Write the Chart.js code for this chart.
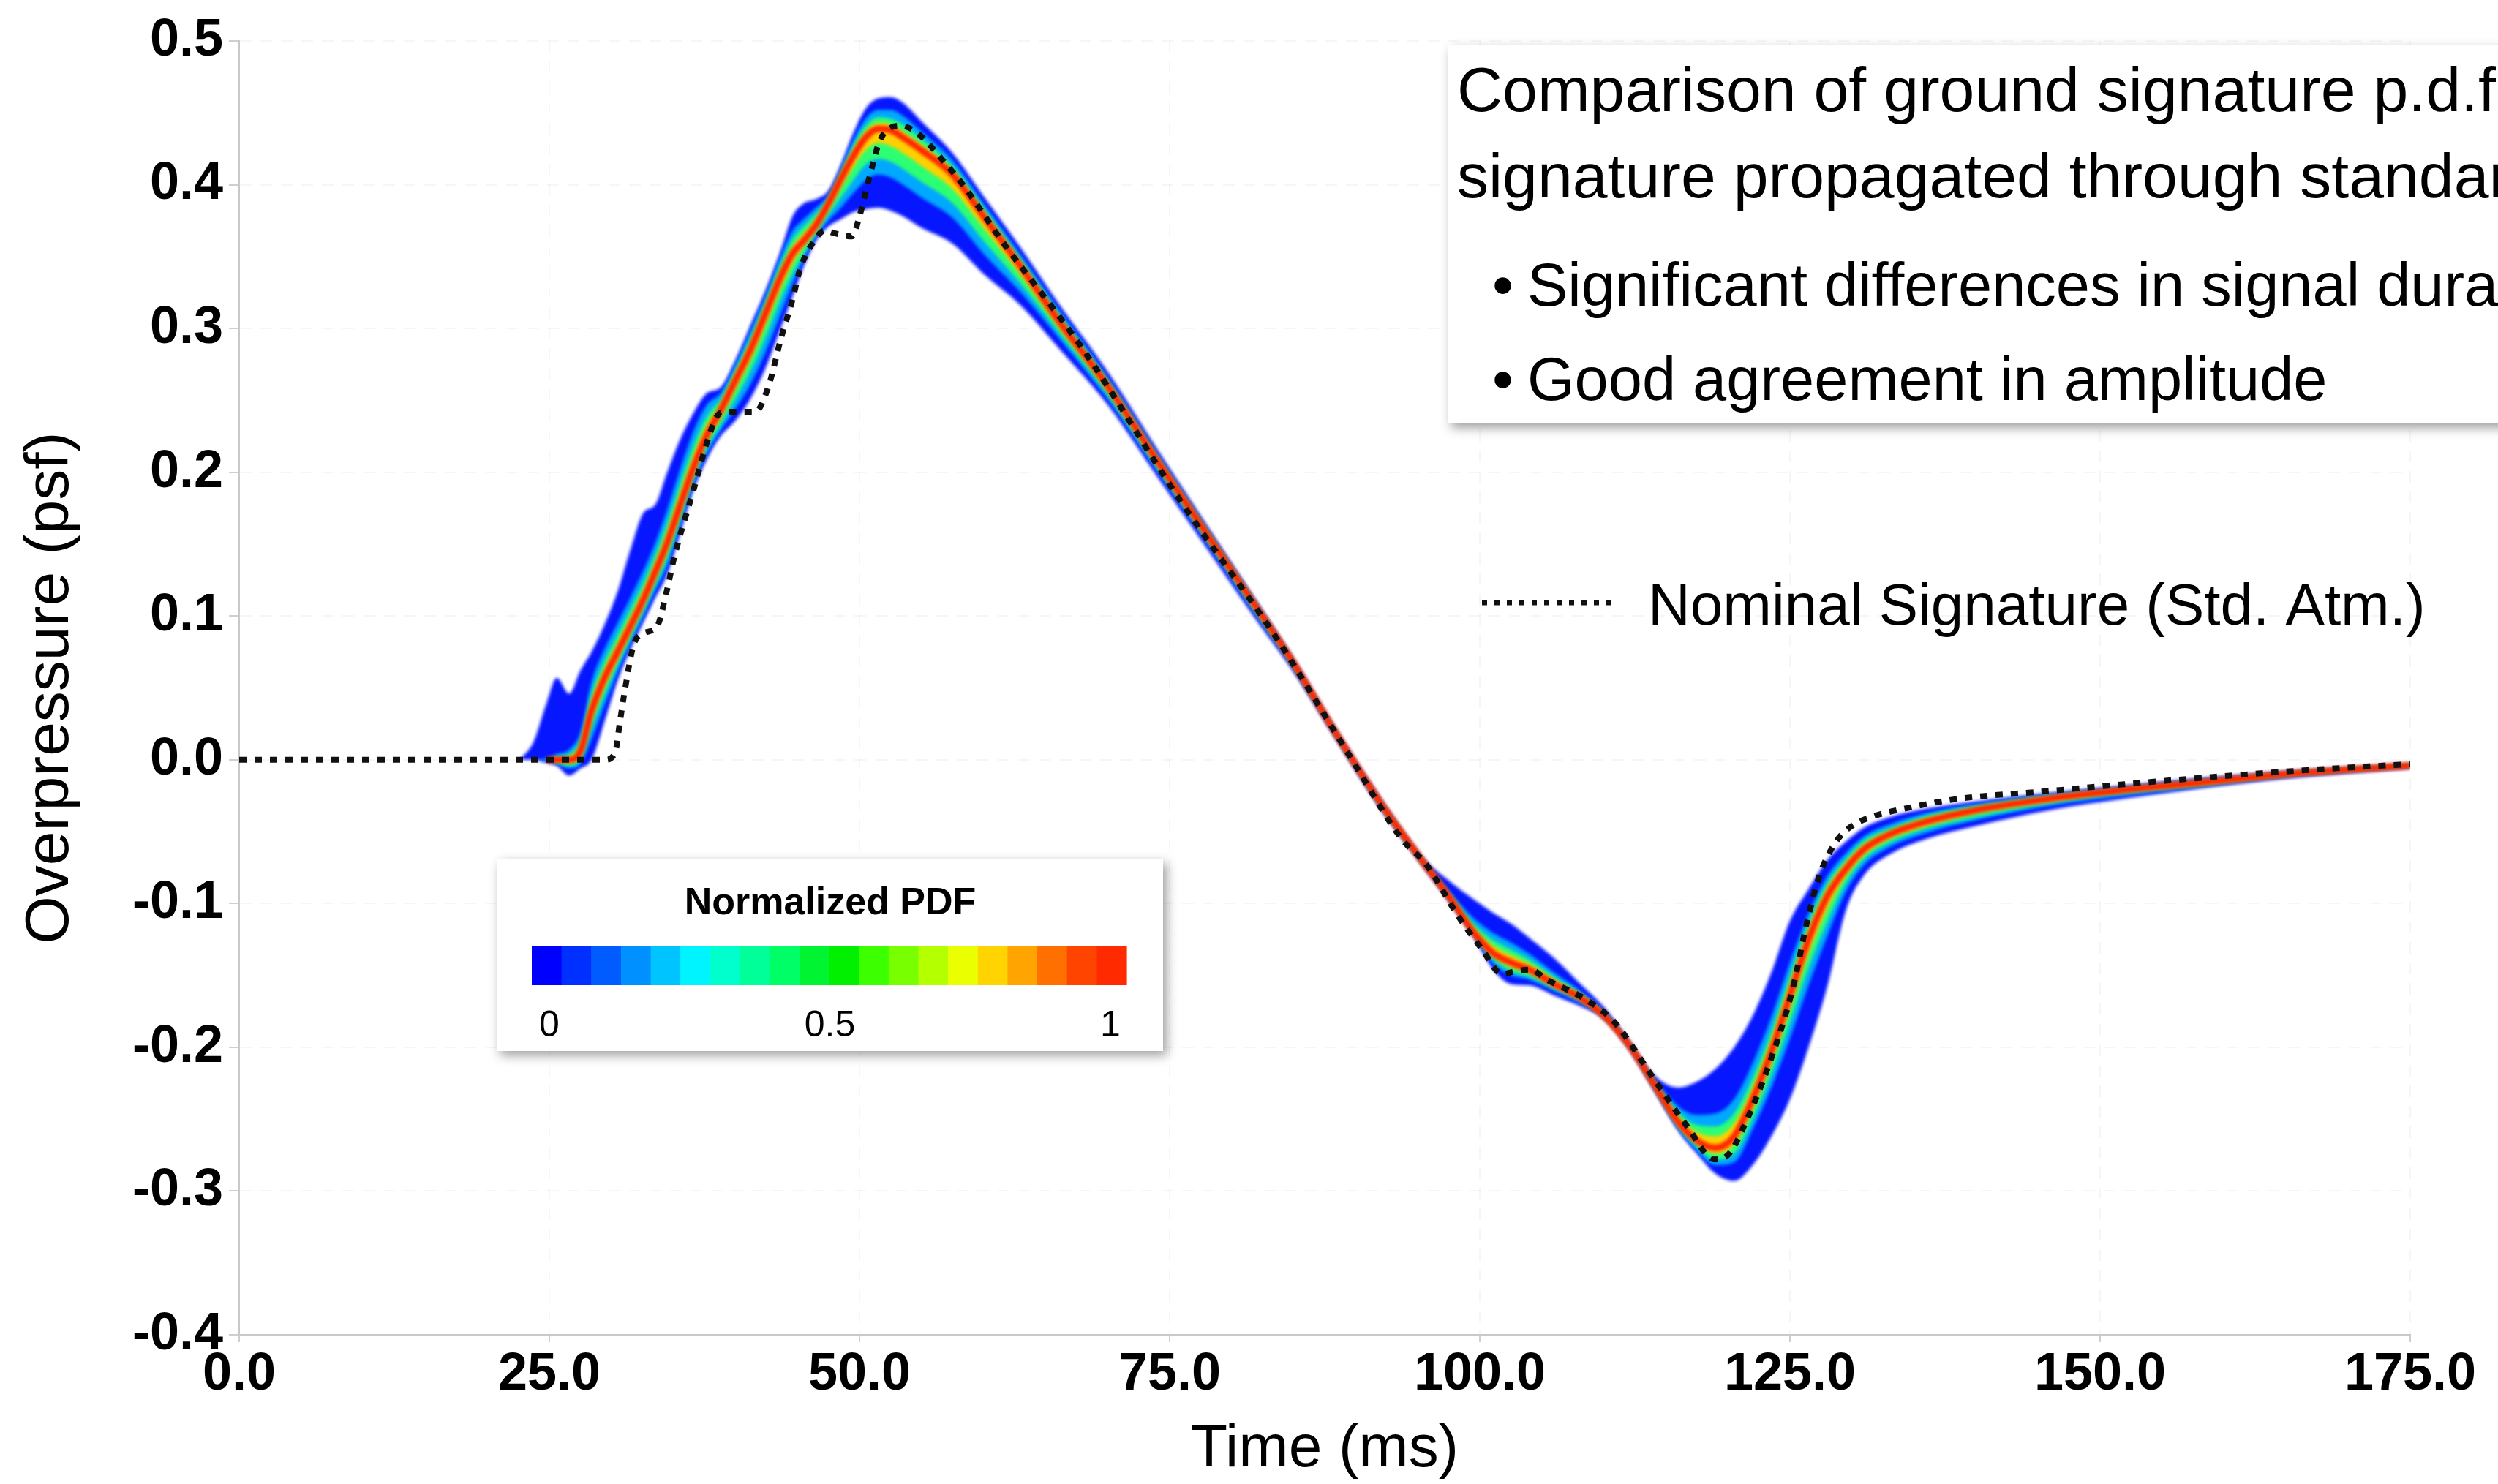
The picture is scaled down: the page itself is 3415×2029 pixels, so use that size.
<!DOCTYPE html>
<html>
<head>
<meta charset="utf-8">
<title>Ground signature p.d.f.</title>
<script src="https://cdn.jsdelivr.net/npm/chart.js@4.4.1/dist/chart.umd.min.js"></script>
<style>
  html, body { margin: 0; padding: 0; background: #ffffff; }
  canvas { display: block; }
</style>
</head>
<body>
<canvas id="chart" width="3415" height="2029"></canvas>
<script>
// ---- Ground signature p.d.f. (time in ms, overpressure in psf) ----
const timeMs = [22.6, 23.7, 24.8, 25.6, 26.6, 27.5, 28.4, 29.5, 30.5, 31.6,
  32.6, 33.5, 34.5, 35.5, 36.6, 37.7, 38.8, 40.0, 41.2, 42.4,
  43.6, 44.6, 45.5, 46.5, 47.5, 48.5, 49.5, 50.5, 51.5, 52.5,
  53.5, 55.0, 57.5, 60.0, 63.0, 66.0, 70.0, 74.0, 78.0, 82.0,
  85.0, 88.0, 92.0, 95.5, 97.5, 99.5, 101.0, 102.5, 104.0, 106.0,
  108.0, 110.0, 112.0, 114.0, 116.0, 117.5, 119.0, 120.5, 122.0, 123.5,
  125.0, 126.5, 128.0, 129.5, 131.0, 133.0, 136.0, 140.0, 146.0, 152.0,
  158.0, 165.0, 175.0];

// most probable overpressure (PDF = 1 ridge)
const ridgePsf = [0, 0, 0, 0, 0, .006, .034, .058, .075, .094,
  .112, .130, .151, .176, .203, .226, .243, .264, .285, .310,
  .335, .352, .361, .372, .387, .404, .420, .433, .439, .438,
  .433, .424, .407, .378, .343, .306, .260, .208, .157, .106,
  .067, .024, -.030, -.072, -.095, -.120, -.134, -.141, -.146, -.156,
  -.165, -.178, -.198, -.225, -.252, -.265, -.270, -.262, -.236, -.203,
  -.164, -.125, -.095, -.076, -.062, -.052, -.043, -.035, -.027, -.021,
  -.016, -.010, -.004];

// spread of each PDF contour above the ridge (psf)
const upEdge = [0, .012, .040, .057, .046, .056, .041, .037, .042, .054,
  .060, .047, .049, .046, .038, .029, .016, .014, .017, .016,
  .018, .026, .026, .018, .009, .010, .016, .020, .021, .023,
  .024, .020, .015, .014, .013, .012, .010, .008, .006, .004,
  .003, .003, .003, .003, .011, .023, .028, .027, .022, .018,
  .010, .006, .003, .006, .024, .041, .055, .062, .058, .055,
  .052, .035, .025, .019, .015, .012, .009, .006, .004, .003,
  .003, .002, .001];
const up25 = [0, 0, .001, .004, .007, .013, .020, .020, .020, .020,
  .020, .020, .023, .025, .025, .021, .012, .011, .013, .012,
  .014, .016, .015, .012, .006, .007, .011, .013, .013, .014,
  .015, .013, .010, .009, .008, .008, .006, .005, .004, .003,
  .002, .002, .002, .002, .004, .010, .014, .014, .011, .008,
  .005, .003, .002, .004, .011, .018, .024, .026, .025, .024,
  .023, .018, .014, .011, .009, .007, .006, .004, .003, .002,
  .002, .001, .001];
const up50 = [0, 0, 0, .002, .004, .008, .012, .012, .012, .012,
  .012, .012, .014, .015, .015, .013, .008, .007, .008, .008,
  .009, .010, .010, .008, .004, .005, .007, .008, .008, .008,
  .009, .008, .006, .006, .005, .005, .004, .003, .003, .002,
  .001, .001, .001, .001, .002, .006, .009, .009, .007, .005,
  .003, .002, .001, .002, .007, .011, .015, .016, .015, .014,
  .014, .012, .009, .007, .006, .004, .004, .003, .002, .001,
  .001, .001, .001];
const up75 = [0, 0, 0, .001, .002, .004, .006, .006, .006, .006,
  .006, .006, .007, .008, .008, .007, .004, .004, .004, .004,
  .004, .005, .005, .004, .002, .002, .004, .004, .004, .004,
  .004, .004, .003, .003, .003, .002, .002, .002, .001, .001,
  .001, .001, .001, .001, .001, .003, .005, .005, .004, .003,
  .002, .001, .001, .001, .004, .006, .008, .009, .008, .008,
  .008, .006, .005, .004, .003, .002, .002, .001, .001, .001,
  .001, .001, 0];

// spread of each PDF contour below the ridge (psf)
const downEdge = [0, 0, .002, .004, .011, .012, .034, .030, .020, .016,
  .016, .018, .022, .020, .016, .017, .018, .028, .034, .038,
  .036, .030, .018, .011, .016, .028, .039, .050, .055, .056,
  .055, .054, .048, .040, .027, .019, .013, .011, .010, .009,
  .006, .004, .004, .003, .003, .003, .011, .015, .011, .008,
  .006, .002, .003, .004, .006, .009, .018, .031, .046, .059,
  .072, .075, .063, .029, .018, .014, .012, .011, .008, .006,
  .004, .003, .002];
const down25 = [0, 0, .001, .003, .006, .009, .020, .019, .014, .012,
  .012, .013, .016, .015, .012, .013, .014, .020, .024, .027,
  .026, .021, .013, .008, .012, .020, .026, .030, .032, .033,
  .033, .033, .030, .026, .018, .012, .009, .007, .006, .006,
  .004, .003, .003, .002, .002, .002, .007, .009, .007, .005,
  .004, .002, .002, .003, .005, .007, .012, .018, .021, .025,
  .030, .032, .028, .016, .011, .009, .008, .007, .005, .004,
  .003, .002, .001];
const down50 = [0, 0, 0, .002, .004, .006, .012, .012, .009, .008,
  .008, .009, .011, .010, .008, .009, .010, .013, .015, .017,
  .016, .014, .009, .006, .008, .013, .017, .019, .021, .022,
  .022, .022, .020, .017, .012, .008, .006, .005, .004, .004,
  .003, .002, .002, .001, .001, .001, .004, .006, .005, .003,
  .002, .001, .001, .002, .003, .004, .008, .012, .014, .016,
  .019, .020, .018, .010, .007, .006, .005, .005, .003, .002,
  .002, .001, .001];
const down75 = [0, 0, 0, .001, .002, .003, .006, .006, .005, .004,
  .004, .004, .005, .005, .004, .004, .005, .006, .007, .008,
  .008, .007, .004, .003, .004, .006, .008, .009, .010, .011,
  .011, .011, .010, .008, .006, .004, .003, .002, .002, .002,
  .001, .001, .001, .001, .001, .001, .002, .003, .002, .002,
  .001, .001, .001, .001, .002, .002, .004, .006, .007, .008,
  .009, .010, .009, .005, .004, .003, .003, .002, .002, .001,
  .001, .001, .001];

// ---- Nominal signature through the standard atmosphere ----
const nominalTime = [0, 29.5, 30.3, 30.7, 31.1, 31.8, 32.6, 33.7, 34.4, 35.1,
  36.6, 37.9, 38.6, 39.2, 41.6, 42.6, 43.7, 44.6, 45.2, 46.2,
  47.2, 48.1, 49.4, 50.0, 50.5, 51.1, 51.6, 52.4, 53.3, 57.4,
  61.8, 67.9, 75.8, 83.7, 89.7, 93.7, 95.7, 98.2, 100.2, 101.8,
  102.9, 104.1, 105.4, 106.1, 108.4, 110.8, 113.8, 116.8, 118.9, 120.1,
  121.6, 123.4, 125.2, 126.4, 127.4, 128.8, 130.0, 131.5, 134.8, 138.7,
  145.5, 152.0, 159.0, 167.0, 175.0];
const nominalPsf = [0, 0, .005, .027, .049, .080, .088, .093, .115, .142,
  .187, .226, .240, .242, .242, .258, .294, .320, .341, .359,
  .368, .366, .364, .378, .395, .415, .430, .439, .441, .410,
  .357, .287, .181, .0835, 0, -.055, -.073, -.108, -.132, -.149,
  -.147, -.146, -.153, -.156, -.166, -.182, -.219, -.256, -.278, -.274,
  -.249, -.210, -.160, -.112, -.080, -.056, -.046, -.040, -.033, -.027,
  -.022, -.017, -.012, -.007, -.003];

// ---- axis ticks and colour bar ----
const timeTicks = [0, 25, 50, 75, 100, 125, 150, 175];
const psfTicks = [-0.4, -0.3, -0.2, -0.1, 0, 0.1, 0.2, 0.3, 0.4, 0.5];
const pdfTicks = [0, 0.5, 1];
const pdfColors = ['#0000ff', '#0030ff', '#005cff', '#0090ff', '#00c4ff',
  '#00f4ff', '#00ffcc', '#00ff98', '#00ff66', '#00f432',
  '#00f000', '#3cff00', '#78ff00', '#b4ff00', '#eaff00',
  '#ffd400', '#ffa400', '#ff7000', '#ff4400', '#ff2a00'];

const summaryTitle = ['Comparison of ground signature p.d.f. with nominal',
  'signature propagated through standard atmosphere'];
const summaryBullets = ['Significant differences in signal duration',
  'Good agreement in amplitude'];
const nominalLabel = 'Nominal Signature (Std. Atm.)';

const FONT = '"Liberation Sans", Arial, Helvetica, sans-serif';

// ---- datasets: nested PDF contour bands, ridge line, nominal line ----
const bandLevels = [
  { above: upEdge, below: downEdge, color: '#0616ff' },
  { above: up25, below: down25, color: '#00a8ff' },
  { above: up50, below: down50, color: '#2cff72' },
  { above: up75, below: down75, color: '#ffd000' }
];

const datasets = [];
bandLevels.forEach((lv, k) => {
  const topIndex = datasets.length;
  datasets.push({
    label: 'pdf-upper-' + k,
    data: timeMs.map((t, i) => ({ x: t, y: ridgePsf[i] + lv.above[i] })),
    borderColor: 'rgba(0,0,0,0)', borderWidth: 0, pointRadius: 0,
    fill: false, order: 20 - k, cubicInterpolationMode: 'monotone'
  });
  datasets.push({
    label: 'pdf-lower-' + k,
    data: timeMs.map((t, i) => ({ x: t, y: ridgePsf[i] - lv.below[i] })),
    borderColor: 'rgba(0,0,0,0)', borderWidth: 0, pointRadius: 0,
    fill: topIndex, backgroundColor: lv.color, order: 20 - k,
    cubicInterpolationMode: 'monotone'
  });
});
datasets.push({
  label: 'PDF ridge',
  data: timeMs.slice(2).map((t, i) => ({ x: t, y: ridgePsf[i + 2] })),
  borderColor: '#ff2600', borderWidth: 9, pointRadius: 0, fill: false,
  order: 2, cubicInterpolationMode: 'monotone'
});
const nominalIndex = datasets.length;
datasets.push({
  label: nominalLabel,
  data: nominalTime.map((t, i) => ({ x: t, y: nominalPsf[i] })),
  borderColor: '#111111', borderWidth: 8, borderDash: [10, 11],
  borderCapStyle: 'butt', pointRadius: 0, fill: false, order: 1,
  cubicInterpolationMode: 'monotone'
});

// soft edges between the contour bands (the nominal line stays crisp)
const bandSoftening = {
  id: 'bandSoftening',
  beforeDatasetsDraw(chart) { chart.ctx.save(); chart.ctx.filter = 'blur(2px)'; },
  beforeDatasetDraw(chart, args) { if (args.index === nominalIndex) chart.ctx.filter = 'none'; },
  afterDatasetsDraw(chart) { chart.ctx.filter = 'none'; chart.ctx.restore(); }
};

function panel(ctx, x, y, w, h) {
  ctx.save();
  ctx.shadowColor = 'rgba(0,0,0,0.38)';
  ctx.shadowBlur = 14;
  ctx.shadowOffsetX = 5;
  ctx.shadowOffsetY = 6;
  ctx.fillStyle = '#ffffff';
  ctx.fillRect(x, y, w, h);
  ctx.restore();
}

// summary box, legend entry and colour bar
const overlays = {
  id: 'overlays',
  afterDraw(chart) {
    const ctx = chart.ctx;

    panel(ctx, 1979, 62, 1600, 517);
    ctx.save();
    ctx.fillStyle = '#000000';
    ctx.textBaseline = 'alphabetic';
    ctx.textAlign = 'left';
    ctx.font = '86px ' + FONT;
    ctx.fillText(summaryTitle[0], 1992, 152);
    ctx.fillText(summaryTitle[1], 1992, 270);
    ctx.font = '83px ' + FONT;
    summaryBullets.forEach((s, i) => {
      const y = 418 + i * 129;
      ctx.fillText('\u2022', 2040, y);
      ctx.fillText(s, 2088, y);
    });

    ctx.strokeStyle = '#111111';
    ctx.lineWidth = 7;
    ctx.setLineDash([7, 10]);
    ctx.beginPath();
    ctx.moveTo(2026, 824);
    ctx.lineTo(2212, 824);
    ctx.stroke();
    ctx.setLineDash([]);
    ctx.font = '80px ' + FONT;
    ctx.fillText(nominalLabel, 2253, 854);
    ctx.restore();

    panel(ctx, 679, 1174, 911, 263);
    ctx.save();
    ctx.fillStyle = '#000000';
    ctx.textAlign = 'center';
    ctx.font = 'bold 52px ' + FONT;
    ctx.fillText('Normalized PDF', 1135, 1250);
    const x0 = 727, x1 = 1540, segW = (x1 - x0) / pdfColors.length;
    pdfColors.forEach((c, i) => {
      ctx.fillStyle = c;
      ctx.fillRect(x0 + i * segW, 1294, segW + 0.6, 53);
    });
    ctx.fillStyle = '#000000';
    ctx.font = '50px ' + FONT;
    pdfTicks.forEach(v => {
      ctx.fillText(String(v), 751 + v * 767, 1417);
    });
    ctx.restore();
  }
};

const axisGrid = {
  color: 'rgba(0,0,0,0.035)', lineWidth: 2, drawTicks: true,
  tickLength: 14, tickColor: '#cfcfcf', tickWidth: 2
};
const axisBorder = { display: true, color: '#c9c9c9', width: 2, dash: [16, 12] };

new Chart(document.getElementById('chart'), {
  type: 'line',
  data: { datasets },
  plugins: [bandSoftening, overlays],
  options: {
    responsive: false,
    devicePixelRatio: 1,
    animation: false,
    events: [],
    layout: { padding: { left: 0, right: 120, top: 56, bottom: 0 } },
    plugins: { legend: { display: false }, tooltip: { enabled: false } },
    scales: {
      x: {
        type: 'linear', min: 0, max: 175,
        afterBuildTicks: s => { s.ticks = timeTicks.map(v => ({ value: v })); },
        afterFit: s => { s.height = 204; },
        grid: Object.assign({}, axisGrid, { tickLength: 10 }),
        border: axisBorder,
        ticks: {
          padding: 2, color: '#000000', maxRotation: 0, autoSkip: false,
          font: { size: 72, family: FONT, weight: 'bold' },
          callback: v => Number(v).toFixed(1)
        },
        title: {
          display: true, text: 'Time (ms)', color: '#000000',
          font: { size: 82, family: FONT, lineHeight: 1.0 },
          padding: { top: 0, bottom: 6 }
        }
      },
      y: {
        type: 'linear', min: -0.4, max: 0.5,
        afterBuildTicks: s => { s.ticks = psfTicks.map(v => ({ value: v })); },
        afterFit: s => { s.width = 327; },
        grid: axisGrid,
        border: axisBorder,
        ticks: {
          padding: 8, color: '#000000', autoSkip: false,
          font: { size: 72, family: FONT, weight: 'bold' },
          callback: v => Number(v).toFixed(1)
        },
        title: {
          display: true, text: 'Overpressure (psf)', color: '#000000',
          font: { size: 84, family: FONT, lineHeight: 1.0 },
          padding: { top: 28, bottom: 0 }
        }
      }
    }
  }
});
</script>
</body>
</html>
